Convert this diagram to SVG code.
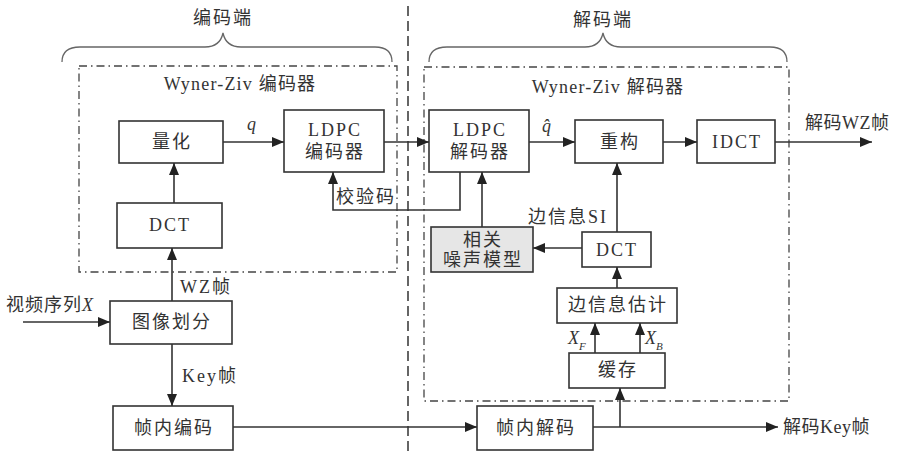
<svg xmlns="http://www.w3.org/2000/svg" width="899" height="453" viewBox="0 0 899 453">
<defs>
<style>
text{font-family:"Liberation Serif","Noto Sans CJK SC",serif;font-size:18px;fill:#333;dominant-baseline:central;letter-spacing:2px}
.c{text-anchor:middle}
.box rect{fill:#fff;stroke:#333;stroke-width:1.6}
.gray rect{fill:#e6e6e6}
.dd{fill:none;stroke:#444;stroke-width:1.3;stroke-dasharray:8 4 1.5 4}
.brace{fill:none;stroke:#666;stroke-width:1.3}
.ln{fill:none;stroke:#333;stroke-width:1.6}
.it{font-style:italic}
</style>
<marker id="ah" viewBox="0 0 12 10" refX="12" refY="5" markerWidth="12" markerHeight="10" markerUnits="userSpaceOnUse" orient="auto">
<path d="M0,0 L12,5 L0,10 z" fill="#222"/>
</marker>
</defs>
<rect width="899" height="453" fill="#fff"/>

<!-- separator -->
<line x1="408" y1="6" x2="408" y2="453" stroke="#333" stroke-width="1.5" stroke-dasharray="10 5"/>

<!-- braces and side labels -->
<g id="encoder-side">
<path class="brace" d="M62,62 Q62,47 80,47 L205,47 Q220,47 223,33 Q226,47 241,47 L375,47 Q392,47 392,62"/>
<text class="c" x="223" y="18">编码端</text>
<rect class="dd" x="79" y="66" width="318" height="206"/>
<text class="c" x="240" y="84" style="letter-spacing:1.2px">Wyner-Ziv 编码器</text>
</g>
<g id="decoder-side">
<path class="brace" d="M429,62 Q429,47 447,47 L585,47 Q600,47 603,33 Q606,47 621,47 L770,47 Q787,47 787,62"/>
<text class="c" x="603" y="20">解码端</text>
<rect class="dd" x="424" y="67" width="365" height="334"/>
<text class="c" x="608" y="87" style="letter-spacing:1.2px">Wyner-Ziv 解码器</text>
</g>

<!-- nodes -->
<g id="quant" class="box"><rect x="119" y="121" width="104" height="42"/><text class="c" x="172" y="142">量化</text></g>
<g id="ldpc-enc" class="box"><rect x="284" y="110" width="100" height="62"/><text class="c" x="335" y="130">LDPC</text><text class="c" x="335" y="152">编码器</text></g>
<g id="dct-enc" class="box"><rect x="117" y="203" width="105" height="45"/><text class="c" x="170" y="225">DCT</text></g>
<g id="split" class="box"><rect x="110" y="301" width="122" height="43"/><text class="c" x="172" y="322">图像划分</text></g>
<g id="intra-enc" class="box"><rect x="113" y="406" width="120" height="44"/><text class="c" x="174" y="428">帧内编码</text></g>
<g id="ldpc-dec" class="box"><rect x="429" y="110" width="100" height="62"/><text class="c" x="480" y="130">LDPC</text><text class="c" x="480" y="152">解码器</text></g>
<g id="recon" class="box"><rect x="575" y="120" width="88" height="43"/><text class="c" x="620" y="142">重构</text></g>
<g id="idct" class="box"><rect x="697" y="120" width="78" height="43"/><text class="c" x="737" y="142">IDCT</text></g>
<g id="noise" class="box gray"><rect x="431" y="227" width="102" height="45"/><text class="c" x="483" y="240">相关</text><text class="c" x="483" y="260">噪声模型</text></g>
<g id="dct-dec" class="box"><rect x="582" y="232" width="69" height="35"/><text class="c" x="617" y="250">DCT</text></g>
<g id="si-est" class="box"><rect x="557" y="288" width="120" height="35"/><text class="c" x="618" y="305">边信息估计</text></g>
<g id="buffer" class="box"><rect x="569" y="353" width="96" height="35"/><text class="c" x="618" y="370">缓存</text></g>
<g id="intra-dec" class="box"><rect x="477" y="406" width="116" height="44"/><text class="c" x="536" y="428">帧内解码</text></g>

<!-- connectors -->
<g id="connectors" class="ln">
<line x1="23" y1="322" x2="110" y2="322" marker-end="url(#ah)"/>
<line x1="172" y1="301" x2="172" y2="248" marker-end="url(#ah)"/>
<line x1="174" y1="203" x2="174" y2="163" marker-end="url(#ah)"/>
<line x1="172" y1="344" x2="172" y2="406" marker-end="url(#ah)"/>
<line x1="223" y1="142" x2="284" y2="142" marker-end="url(#ah)"/>
<line x1="384" y1="142" x2="429" y2="142" marker-end="url(#ah)"/>
<polyline points="460,172 460,210 333,210 333,172" marker-end="url(#ah)"/>
<line x1="529" y1="142" x2="575" y2="142" marker-end="url(#ah)"/>
<line x1="663" y1="142" x2="697" y2="142" marker-end="url(#ah)"/>
<line x1="775" y1="142" x2="872" y2="142" marker-end="url(#ah)"/>
<line x1="482" y1="227" x2="482" y2="172" marker-end="url(#ah)"/>
<line x1="582" y1="248" x2="533" y2="248" marker-end="url(#ah)"/>
<line x1="617" y1="232" x2="617" y2="163" marker-end="url(#ah)"/>
<line x1="617" y1="288" x2="617" y2="267" marker-end="url(#ah)"/>
<line x1="595" y1="353" x2="595" y2="323" marker-end="url(#ah)"/>
<line x1="640" y1="353" x2="640" y2="323" marker-end="url(#ah)"/>
<line x1="233" y1="427" x2="477" y2="427" marker-end="url(#ah)"/>
<line x1="593" y1="427" x2="778" y2="427" marker-end="url(#ah)"/>
<line x1="620" y1="427" x2="620" y2="388" marker-end="url(#ah)"/>
</g>

<!-- labels -->
<g id="labels">
<text class="it" x="247" y="124">q</text>
<text class="it" x="542" y="126" style="letter-spacing:0">q̂</text>
<text x="336" y="197">校验码</text>
<text x="528" y="217">边信息SI</text>
<text x="180" y="287">WZ帧</text>
<text x="182" y="376">Key帧</text>
<text x="6" y="305" style="letter-spacing:1px">视频序列<tspan class="it">X</tspan></text>
<text x="805" y="123" style="letter-spacing:0.5px">解码WZ帧</text>
<text x="783" y="427" style="letter-spacing:0.5px">解码Key帧</text>
<text class="it" x="568" y="338" style="letter-spacing:0">X<tspan style="font-size:11px" dy="8">F</tspan></text>
<text class="it" x="645" y="338" style="letter-spacing:0">X<tspan style="font-size:11px" dy="8">B</tspan></text>
</g>
</svg>
